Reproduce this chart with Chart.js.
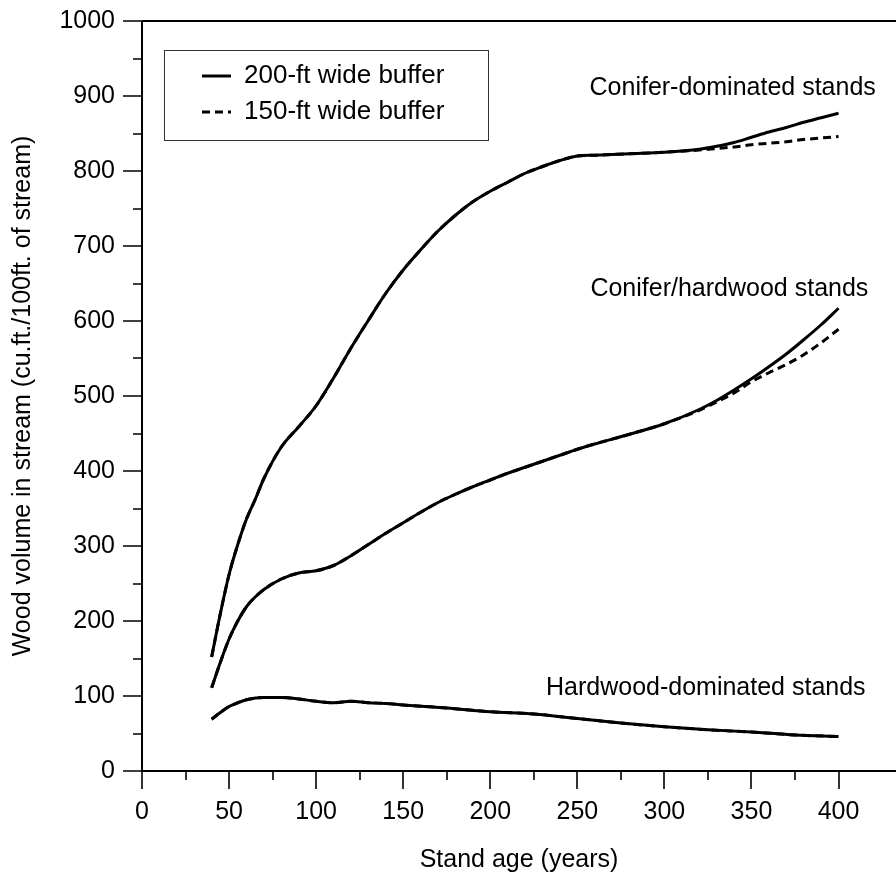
<!DOCTYPE html>
<html>
<head>
<meta charset="utf-8">
<script src="https://cdn.jsdelivr.net/npm/chart.js@4.4.1/dist/chart.umd.min.js"></script>
<style>
  html, body { margin: 0; padding: 0; background: #fff; }
  canvas { display: block; }
</style>
</head>
<body>
<canvas id="woodChart" width="896" height="873"></canvas>
<script>
// Stand ages (years) for the conifer and conifer/hardwood curves
const ages = [40, 45, 50, 55, 60, 65, 70, 80, 90, 100, 110, 120, 130, 140, 150, 160, 170, 180, 190, 200,
              210, 220, 230, 240, 250, 260, 280, 300, 320, 330, 340, 350, 360, 370, 380, 390, 400];

// Conifer-dominated stands
const conifer200 = [152, 210, 262, 302, 336, 362, 390, 432, 459, 487, 524, 564, 601, 637, 668, 695, 720, 741, 759, 773,
                    785, 797, 806, 814, 820, 821, 823, 825, 829, 833, 838, 845, 852, 858, 865, 871, 877];
const conifer150 = [152, 210, 262, 302, 336, 362, 390, 432, 459, 487, 524, 564, 601, 637, 668, 695, 720, 741, 759, 773,
                    785, 797, 806, 814, 820, 821, 823, 825, 828, 830, 832, 835, 837, 839, 842, 844, 846];

// Conifer/hardwood stands
const mixed200 = [111, 145, 176, 200, 219, 232, 242, 256, 264, 267, 274, 287, 302, 317, 331, 345, 358, 369, 379, 388,
                  397, 405, 413, 421, 429, 436, 449, 463, 482, 494, 508, 523, 539, 556, 575, 595, 617];
const mixed150 = [111, 145, 176, 200, 219, 232, 242, 256, 264, 267, 274, 287, 302, 317, 331, 345, 358, 369, 379, 388,
                  397, 405, 413, 421, 429, 436, 449, 463, 481, 492, 504, 519, 531, 542, 555, 571, 589];

// Hardwood-dominated stands
const hwAges = [40, 45, 50, 55, 60, 70, 80, 90, 100, 110, 120, 130, 140, 150, 175, 200, 225, 250, 275, 300, 325, 350, 375, 400];
const hardwood200 = [69, 78, 86, 91, 95, 98, 98, 96, 93, 91, 93, 91, 90, 88, 84, 79, 76, 70, 64, 59, 55, 52, 48, 46];
const hardwood150 = [69, 78, 86, 91, 95, 98, 98, 96, 93, 91, 93, 91, 90, 88, 84, 79, 76, 70, 64, 59, 55, 52, 48, 46];

// Curve labels, anchored in data units (left edge, vertical middle)
const curveLabels = ['Conifer-dominated stands', 'Conifer/hardwood stands', 'Hardwood-dominated stands'];
const curveLabelX = [257, 257.5, 232];
const curveLabelY = [911, 643, 111];

const legendLabels = ['200-ft wide buffer', '150-ft wide buffer'];

const FONT = "'Liberation Sans', Arial, Helvetica, sans-serif";
const DASH = [8, 5];

function toPoints(xs, ys) {
    return xs.map((v, i) => ({ x: v, y: ys[i] }));
}

function line(label, xs, ys, dashed) {
    return {
        label: label,
        data: toPoints(xs, ys),
        borderColor: '#000',
        borderWidth: 3,
        borderDash: dashed ? DASH : [],
        pointRadius: 0,
        fill: false,
        cubicInterpolationMode: 'monotone',
        order: dashed ? 2 : 1, // solid on top
    };
}

// Draws the axis lines, major/minor ticks, legend box and curve labels
const framePlugin = {
    id: 'frame',
    afterDraw(chart) {
        const { ctx, chartArea: a, scales } = chart;
        const x = scales.x, y = scales.y;
        ctx.save();
        ctx.strokeStyle = '#000';
        ctx.lineCap = 'butt';

        // axis lines + top border
        ctx.lineWidth = 2;
        ctx.beginPath();
        ctx.moveTo(a.left, a.top);
        ctx.lineTo(a.left, a.bottom);
        ctx.moveTo(a.left, a.bottom);
        ctx.lineTo(a.right, a.bottom);
        ctx.moveTo(a.left, a.top);
        ctx.lineTo(a.right, a.top);
        ctx.stroke();

        // ticks
        ctx.lineWidth = 1.6;
        ctx.beginPath();
        y.ticks.forEach(t => {
            const py = Math.round(y.getPixelForValue(t.value));
            const len = t.value % 100 === 0 ? 19 : 9;
            ctx.moveTo(a.left - len, py);
            ctx.lineTo(a.left, py);
        });
        x.ticks.forEach(t => {
            const px = Math.round(x.getPixelForValue(t.value));
            const len = t.value % 50 === 0 ? 18 : 9;
            ctx.moveTo(px, a.bottom);
            ctx.lineTo(px, a.bottom + len);
        });
        ctx.stroke();

        // legend
        const lx = a.left + 22, ly = a.top + 29, lw = 324, lh = 90;
        ctx.lineWidth = 1;
        ctx.strokeStyle = '#333';
        ctx.strokeRect(lx + 0.5, ly + 0.5, lw, lh);
        ctx.strokeStyle = '#000';
        ctx.fillStyle = '#000';
        ctx.font = '26px ' + FONT;
        ctx.textBaseline = 'middle';
        ctx.textAlign = 'left';
        legendLabels.forEach((txt, i) => {
            const rowY = ly + 26 + i * 36;
            ctx.lineWidth = 3;
            ctx.setLineDash(i === 0 ? [] : DASH);
            ctx.beginPath();
            ctx.moveTo(lx + 38, rowY);
            ctx.lineTo(lx + 67, rowY);
            ctx.stroke();
            ctx.setLineDash([]);
            ctx.fillText(txt, lx + 80, rowY);
        });

        // curve labels
        ctx.font = '25px ' + FONT;
        curveLabels.forEach((txt, i) => {
            ctx.fillText(txt, x.getPixelForValue(curveLabelX[i]), y.getPixelForValue(curveLabelY[i]));
        });
        ctx.restore();
    }
};

const ctx = document.getElementById('woodChart').getContext('2d');
const woodChart = new Chart(ctx, {
    type: 'line',
    data: {
        datasets: [
            line('200-ft wide buffer', ages, conifer200, false),
            line('150-ft wide buffer', ages, conifer150, true),
            line('200-ft wide buffer', ages, mixed200, false),
            line('150-ft wide buffer', ages, mixed150, true),
            line('200-ft wide buffer', hwAges, hardwood200, false),
            line('150-ft wide buffer', hwAges, hardwood150, true),
        ],
    },
    options: {
        responsive: false,
        animation: false,
        layout: { padding: { top: 21, right: 0, left: 0, bottom: 0 } },
        plugins: {
            legend: { display: false },
            tooltip: { enabled: false },
        },
        scales: {
            x: {
                type: 'linear',
                min: 0,
                max: 433,
                grid: { display: false, drawTicks: false },
                border: { display: false },
                afterBuildTicks: scale => {
                    scale.ticks = scale.ticks.filter(t => t.value % 25 === 0);
                },
                afterFit: scale => {
                    scale.height = 102;
                    scale.paddingLeft = 0;
                    scale.paddingRight = 0;
                },
                ticks: {
                    stepSize: 25,
                    autoSkip: false,
                    maxRotation: 0,
                    padding: 26,
                    color: '#000',
                    font: { family: FONT, size: 25, lineHeight: 1.2 },
                    callback: value => (value % 50 === 0 ? String(value) : ''),
                },
                title: {
                    display: true,
                    text: 'Stand age (years)',
                    color: '#000',
                    padding: 0,
                    font: { family: FONT, size: 25, lineHeight: 1 },
                },
            },
            y: {
                type: 'linear',
                min: 0,
                max: 1000,
                grid: { display: false, drawTicks: false },
                border: { display: false },
                afterFit: scale => {
                    scale.width = 142;
                    // tick padding would otherwise push the plot top down
                    scale.paddingTop = 0;
                    scale.paddingBottom = 0;
                },
                ticks: {
                    stepSize: 50,
                    autoSkip: false,
                    padding: 27,
                    color: '#000',
                    font: { family: FONT, size: 25, lineHeight: 1.2 },
                    callback: value => (value % 100 === 0 ? String(value) : ''),
                },
                title: {
                    display: true,
                    text: 'Wood volume in stream (cu.ft./100ft. of stream)',
                    color: '#000',
                    padding: 11,
                    font: { family: FONT, size: 25, lineHeight: 1 },
                },
            },
        },
    },
    plugins: [framePlugin],
});
</script>
</body>
</html>
